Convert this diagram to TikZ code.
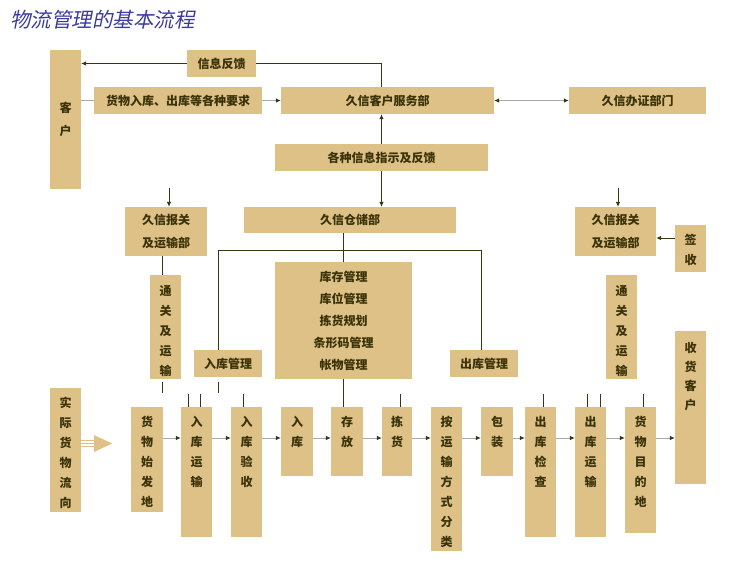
\documentclass[tikz,border=0pt]{standalone}
\usepackage{fontspec}
\setmainfont{Noto Sans CJK SC}
\newfontfamily\titlefont[FakeSlant=0.2]{Noto Sans CJK SC}
\usetikzlibrary{arrows.meta,fit,positioning}
\definecolor{boxtan}{RGB}{222,193,134}
\definecolor{olive}{RGB}{58,50,8}
\definecolor{darkline}{RGB}{55,55,20}
\definecolor{greyline}{RGB}{170,170,170}
\definecolor{titleblue}{RGB}{58,58,160}

\tikzset{
  tanbox/.style={fill=boxtan, draw=none, inner sep=0pt},
  boxtext/.style={text=olive, font=\bfseries\fontsize{12}{20}\selectfont, align=center, inner sep=0pt},
  dark/.style={darkline, line width=0.8pt},
  darkarrow/.style={darkline, line width=0.8pt, -{Latex[length=5pt,width=4.5pt]}},
  greyarrow/.style={greyline, line width=0.8pt, -{Latex[length=5pt,width=4.5pt,color=darkline]}},
  greyboth/.style={greyline, line width=0.8pt, {Latex[length=5pt,width=4.5pt,color=darkline]}-{Latex[length=5pt,width=4.5pt,color=darkline]}},
}
\newcommand{\mkbox}[5]{\node[tanbox, fit={(#2,#3) (#4,#5)}] (#1) {};}

\begin{document}
\begin{tikzpicture}[x=1pt,y=-1pt]
\useasboundingbox (0,0) rectangle (741,563);

% title
\node[anchor=west, text=titleblue, font=\titlefont\fontsize{20.5}{24}\selectfont, inner sep=0pt] (title) at (10,20) {物流管理的基本流程};

% upper part
\mkbox{kehu}{50}{50}{81}{189}
\mkbox{fankui}{187}{50}{256}{77}
\mkbox{yaoqiu}{94}{87}{262}{114}
\mkbox{kefu}{281}{87}{494}{114}
\mkbox{banzheng}{569}{87}{706}{114}
\mkbox{zhishi}{275}{144}{488}{171}
\mkbox{cangchu}{244}{207}{456}{233}
\mkbox{baoguanL}{125}{207}{207}{256}
\mkbox{baoguanR}{575}{207}{656}{256}
\mkbox{qianshou}{675}{225}{706}{272}
\mkbox{kucun}{275}{262}{412}{379}
\mkbox{tongguanL}{150}{275}{181}{379}
\mkbox{tongguanR}{606}{275}{637}{379}
\mkbox{rukuguanli}{194}{350}{262}{377}
\mkbox{chukuguanli}{450}{350}{518}{377}
\mkbox{shouhuo}{675}{331}{706}{484}

% goods flow
\mkbox{shiji}{50}{388}{81}{512}
\mkbox{shifa}{131}{407}{163}{512}
\mkbox{rukuys}{181}{407}{212}{537}
\mkbox{rukuyans}{231}{407}{262}{537}
\mkbox{ruku}{281}{407}{313}{476}
\mkbox{cunfang}{331}{407}{363}{476}
\mkbox{jianhuo}{382}{407}{412}{476}
\mkbox{fenlei}{431}{407}{462}{551}
\mkbox{baozhuang}{481}{407}{513}{476}
\mkbox{chukujc}{525}{407}{556}{537}
\mkbox{chukuys}{575}{407}{606}{537}
\mkbox{mudidi}{625}{407}{656}{533}

% texts
\node[boxtext, font=\bfseries\fontsize{12}{23}\selectfont] at (kehu) {客\\户};
\node[boxtext] at (fankui) {信息反馈};
\node[boxtext] at (yaoqiu) {货物入库、出库等各种要求};
\node[boxtext] at (kefu) {久信客户服务部};
\node[boxtext] at (banzheng) {久信办证部门};
\node[boxtext] at (zhishi) {各种信息指示及反馈};
\node[boxtext] at (cangchu) {久信仓储部};
\node[boxtext, font=\bfseries\fontsize{12}{23}\selectfont] at (baoguanL) {久信报关\\及运输部};
\node[boxtext, font=\bfseries\fontsize{12}{23}\selectfont] at (baoguanR) {久信报关\\及运输部};
\node[boxtext, font=\bfseries\fontsize{12}{22}\selectfont] at (kucun) {库存管理\\库位管理\\拣货规划\\条形码管理\\帐物管理};
\node[boxtext] at (rukuguanli) {入库管理};
\node[boxtext] at (chukuguanli) {出库管理};
\node[boxtext, anchor=north] at ([yshift=-9pt]qianshou.north) {签\\收};
\node[boxtext, anchor=north] at ([yshift=-10pt]tongguanL.north) {通\\关\\及\\运\\输};
\node[boxtext, anchor=north] at ([yshift=-10pt]tongguanR.north) {通\\关\\及\\运\\输};
\node[boxtext, anchor=north, font=\bfseries\fontsize{12}{19}\selectfont] at ([yshift=-11pt]shouhuo.north) {收\\货\\客\\户};
\node[boxtext, anchor=north] at ([yshift=-9pt]shiji.north) {实\\际\\货\\物\\流\\向};
\node[boxtext, anchor=north] at ([yshift=-9pt]shifa.north) {货\\物\\始\\发\\地};
\node[boxtext, anchor=north] at ([yshift=-9pt]rukuys.north) {入\\库\\运\\输};
\node[boxtext, anchor=north] at ([yshift=-9pt]rukuyans.north) {入\\库\\验\\收};
\node[boxtext, anchor=north] at ([yshift=-9pt]ruku.north) {入\\库};
\node[boxtext, anchor=north] at ([yshift=-9pt]cunfang.north) {存\\放};
\node[boxtext, anchor=north] at ([yshift=-9pt]jianhuo.north) {拣\\货};
\node[boxtext, anchor=north] at ([yshift=-9pt]fenlei.north) {按\\运\\输\\方\\式\\分\\类};
\node[boxtext, anchor=north] at ([yshift=-9pt]baozhuang.north) {包\\装};
\node[boxtext, anchor=north] at ([yshift=-9pt]chukujc.north) {出\\库\\检\\查};
\node[boxtext, anchor=north] at ([yshift=-9pt]chukuys.north) {出\\库\\运\\输};
\node[boxtext, anchor=north] at ([yshift=-9pt]mudidi.north) {货\\物\\目\\的\\地};

% information lines
\draw[darkarrow] (fankui.west) -- (fankui.west -| kehu.east);
\draw[dark] (fankui.east) -| (zhishi.north |- kefu.north);
\draw[greyline, line width=0.8pt] (yaoqiu.west -| kehu.east) -- (yaoqiu.west);
\draw[greyarrow] (yaoqiu.east) -- (kefu.west);
\draw[greyboth] (kefu.east) -- (banzheng.west);
\draw[darkarrow] (zhishi.north) -- (zhishi.north |- kefu.south);
\draw[darkarrow] (zhishi.south) -- (zhishi.south |- cangchu.north);

\coordinate (inL) at (169,188);
\coordinate (inR) at (618,188);
\draw[darkarrow] (inL) -- (inL |- baoguanL.north);
\draw[darkarrow] (inR) -- (inR |- baoguanR.north);
\coordinate (qs) at ([yshift=10.5pt]qianshou.west);
\draw[darkarrow] (qs) -- (qs -| baoguanR.east);
\draw[dark] ([xshift=-3.5pt]tongguanL.north |- baoguanL.south) -- ([xshift=-3.5pt]tongguanL.north);

% warehouse lines
\coordinate (bar) at (0,250);
\draw[dark] (kucun.north |- cangchu.south) -- (kucun.north);
\draw[dark] ([xshift=-10pt]rukuguanli.north) |- ([xshift=-3pt]chukuguanli.north |- bar) -- ([xshift=-3pt]chukuguanli.north);
\draw[dark] (kucun.south) -- (kucun.south |- cunfang.north);
\draw[dark] (tongguanL.south) ++(-3.5,3) -- ++(0,11);
\draw[dark] (rukuguanli.south) ++(-10,5) -- ++(0,11);
\foreach \b/\dx in {rukuys/-8.5, rukuys/3.5, rukuyans/-3.5, jianhuo/3, chukujc/2.5, chukuys/-3.5, chukuys/9.5, mudidi/2.5}
  \draw[dark] (\b.north) ++(\dx,0) -- ++(0,-13);

% flow arrows
\coordinate (flow) at (0,438);
\foreach \a/\b in {shifa/rukuys, rukuys/rukuyans, rukuyans/ruku, ruku/cunfang, cunfang/jianhuo, jianhuo/fenlei, fenlei/baozhuang, baozhuang/chukujc, chukujc/chukuys, chukuys/mudidi, mudidi/shouhuo}
  \draw[greyarrow] (\a.east |- flow) -- (\b.west |- flow);

% big flow arrow
\foreach \y in {440.5, 443.5, 446.5}
  \draw[boxtan, line width=1pt] (81,\y) -- (96,\y);
\fill[boxtan] (94,435) -- (112,443.5) -- (94,452) -- cycle;
\end{tikzpicture}
\end{document}
